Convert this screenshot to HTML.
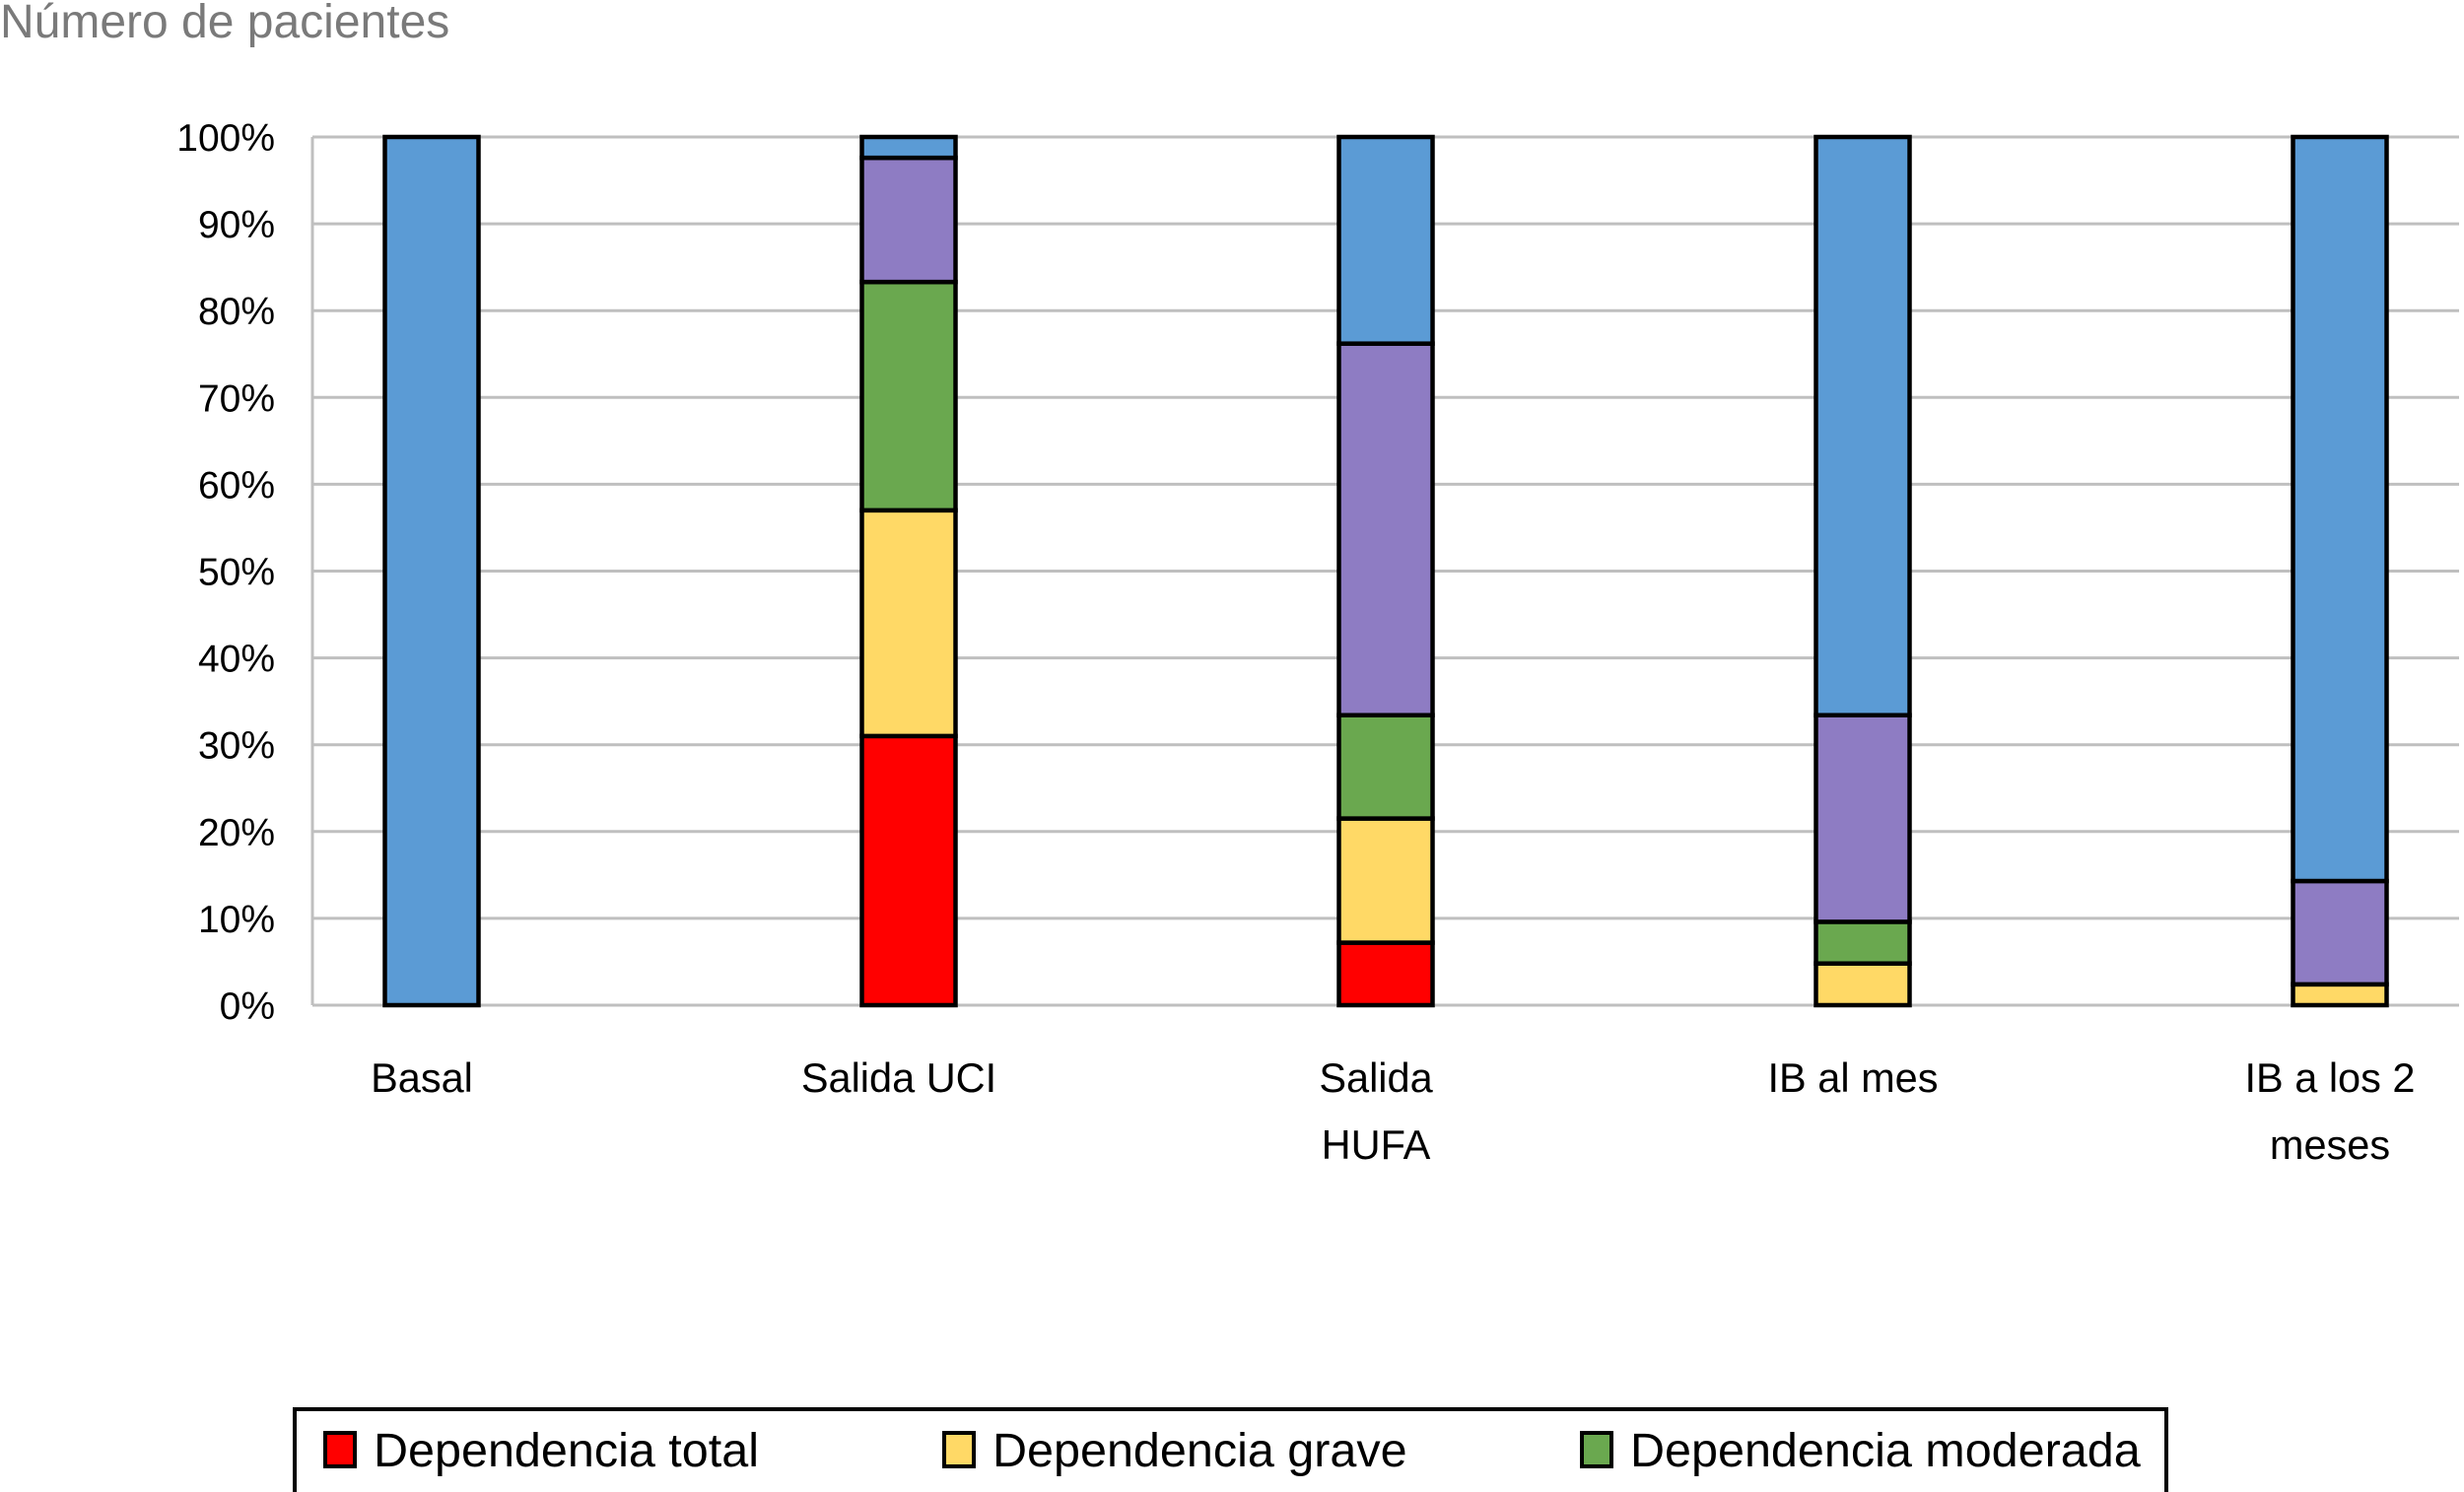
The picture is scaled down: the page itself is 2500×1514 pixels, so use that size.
<!DOCTYPE html>
<html><head><meta charset="utf-8"><style>
body{margin:0;background:#fff;}
svg{display:block;font-family:"Liberation Sans",sans-serif;}
</style></head><body>
<svg id="chart" width="2500" height="1514" viewBox="0 0 2500 1514">
<text x="0" y="38" font-size="48" fill="#7a7a7a">Número de pacientes</text>
<g id="grid"></g><g id="bars"></g><g id="xlabels"></g>
<g>
<rect x="299" y="1430" width="1899" height="100" fill="#fff" stroke="#000" stroke-width="4"/>
<rect x="330" y="1454" width="30" height="34" fill="#ff0000" stroke="#000" stroke-width="4"/>
<text x="379" y="1488" font-size="48.5">Dependencia total</text>
<rect x="958" y="1454" width="30" height="34" fill="#ffd966" stroke="#000" stroke-width="4"/>
<text x="1007" y="1488" font-size="48.5">Dependencia grave</text>
<rect x="1605" y="1454" width="30" height="34" fill="#6aa84f" stroke="#000" stroke-width="4"/>
<text x="1654" y="1488" font-size="48.5">Dependencia moderada</text>
</g>
</svg>
<script>
const categories=[["Basal"],["Salida UCI"],["Salida","HUFA"],["IB al mes"],["IB a los 2","meses"]];
const seriesNames=["total","grave","moderada","leve","independiente"];
const total=[0,31,7.2,0,0];
const grave=[0,26,14.3,4.8,2.4];
const moderada=[0,26.3,11.9,4.8,0];
const leve=[0,14.3,42.8,23.8,11.9];
const independiente=[100,2.4,23.8,66.6,85.7];
const yTicks=[0,10,20,30,40,50,60,70,80,90,100];
const colors=["#ff0000","#ffd966","#6aa84f","#8e7cc3","#5b9bd5"];
const NS="http://www.w3.org/2000/svg";
const L=317,R=2495,T=139,B=1020;
const y=v=>B-(B-T)*v/100;
const xc=i=>L+121+i*484;
const BW=95;
function mk(tag,attrs,parent){const e=document.createElementNS(NS,tag);for(const k in attrs)e.setAttribute(k,attrs[k]);parent.appendChild(e);return e;}
const grid=document.getElementById('grid');
yTicks.forEach(t=>{
  const l=mk('line',{x1:L,x2:R,y1:y(t),y2:y(t),stroke:'#bfbfbf','stroke-width':3},grid);
  
  
  const tx=mk('text',{x:279,y:y(t)+14,'font-size':39,'text-anchor':'end'},grid);
  tx.textContent=t+'%';
  
  
});
const ax=mk('line',{x1:L,x2:L,y1:T,y2:B,stroke:'#bfbfbf','stroke-width':3},grid);


const series=[total,grave,moderada,leve,independiente];
const bars=document.getElementById('bars');
categories.forEach((c,i)=>{
  let acc=0;
  series.forEach((s,k)=>{
    const v=s[i]; if(v<=0) return;
    const r=mk('rect',{x:xc(i)-BW/2,y:y(acc+v),width:BW,height:y(acc)-y(acc+v),fill:colors[k],stroke:'#000','stroke-width':4.5},bars);
    
    
    acc+=v;
  });
  const g=document.getElementById('xlabels');
  c.forEach((line,j)=>{
    const t=mk('text',{x:xc(i)-10,y:1108+j*68,'font-size':41.5,'text-anchor':'middle'},g);
    t.textContent=line;
    
    
  });
});
</script>
</body></html>
